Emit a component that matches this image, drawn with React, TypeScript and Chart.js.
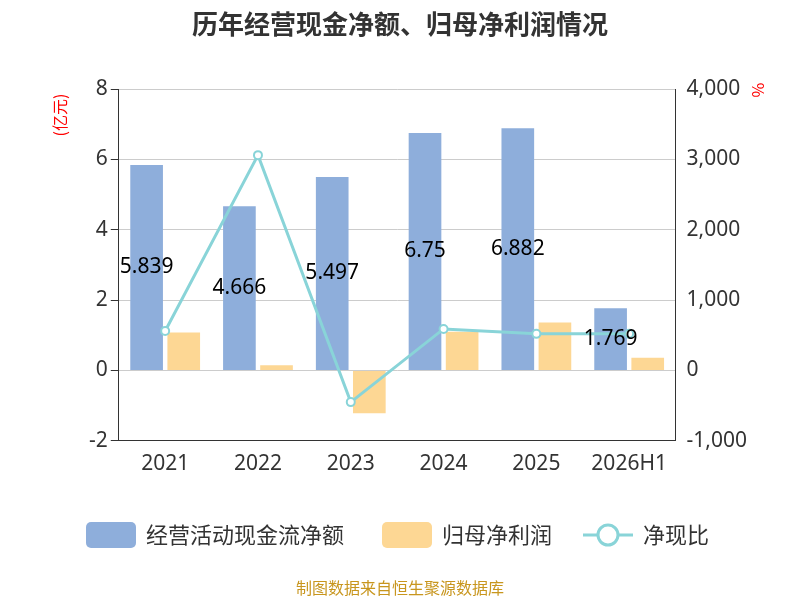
import React, { useEffect, useRef } from "react";
import { Chart, registerables } from "chart.js";
Chart.register(...registerables);

const categories = ["2021", "2022", "2023", "2024", "2025", "2026H1"];
const cashFlow = [5.839, 4.666, 5.497, 6.75, 6.882, 1.769];
const netProfit = [1.08, 0.15, -1.22, 1.1, 1.36, 0.36];
const ratio = [560, 3060, -450, 590, 520, 520];
const leftTicks = [-2, 0, 2, 4, 6, 8];

const BLUE = "#8eaedb";
const ORANGE = "#fdd794";
const TEAL = "#89d4d8";

const extras = {
  id: "extras",
  afterDatasetsDraw(chart: any) {
    const ctx = chart.ctx;
    const meta = chart.getDatasetMeta(0);
    ctx.save();
    ctx.fillStyle = "#000";
    ctx.font = "21px 'Noto Sans', sans-serif";
    ctx.textAlign = "center";
    ctx.textBaseline = "middle";
    meta.data.forEach((b: any, i: number) => {
      const y = (b.y + b.base) / 2;
      ctx.fillText(String(cashFlow[i]), b.x, y);
    });
    ctx.restore();
  },
  afterDraw(chart: any) {
    const ctx = chart.ctx;
    ctx.save();
    ctx.fillStyle = "#333";
    ctx.font = "bold 26px 'Noto Sans CJK SC', sans-serif";
    ctx.textAlign = "center";
    ctx.textBaseline = "middle";
    ctx.fillText("历年经营现金净额、归母净利润情况", 400, 24);
    ctx.fillStyle = "red";
    ctx.font = "16px 'Noto Sans CJK SC', sans-serif";
    ctx.save();
    ctx.translate(60, 115);
    ctx.rotate(-Math.PI / 2);
    ctx.fillText("(亿元)", 0, 0);
    ctx.restore();
    ctx.save();
    ctx.translate(758, 90);
    ctx.rotate(Math.PI / 2);
    ctx.fillText("%", 0, 0);
    ctx.restore();
    // legend
    ctx.textAlign = "left";
    ctx.fillStyle = "#333";
    ctx.font = "22px 'Noto Sans CJK SC', sans-serif";
    const ly = 535;
    const rr = (x: number, w: number, c: string) => {
      ctx.fillStyle = c;
      ctx.beginPath();
      (ctx as any).roundRect(x, ly - 13, w, 26, 5);
      ctx.fill();
    };
    rr(86, 50, BLUE);
    ctx.fillStyle = "#333";
    ctx.fillText("经营活动现金流净额", 146, ly);
    rr(382, 50, ORANGE);
    ctx.fillStyle = "#333";
    ctx.fillText("归母净利润", 442, ly);
    ctx.strokeStyle = TEAL;
    ctx.lineWidth = 3;
    ctx.beginPath();
    ctx.moveTo(583, ly);
    ctx.lineTo(633, ly);
    ctx.stroke();
    ctx.beginPath();
    ctx.fillStyle = "#fff";
    ctx.arc(608, ly, 10, 0, Math.PI * 2);
    ctx.fill();
    ctx.stroke();
    ctx.fillStyle = "#333";
    ctx.fillText("净现比", 643, ly);
    ctx.textAlign = "center";
    ctx.fillStyle = "#c8961e";
    ctx.font = "16px 'Noto Sans CJK SC', sans-serif";
    ctx.fillText("制图数据来自恒生聚源数据库", 400, 588);
    ctx.restore();
  },
};

export default function App() {
  const ref = useRef<HTMLCanvasElement>(null);
  useEffect(() => {
    document.body.style.margin = "0";
    const font = { size: 21, family: "'Noto Sans', sans-serif" };
    const chart = new Chart(ref.current!, {
      type: "bar",
      data: {
        labels: categories,
        datasets: [
          { type: "bar", data: cashFlow, backgroundColor: BLUE, yAxisID: "y", order: 2, barPercentage: 0.88, categoryPercentage: 0.8 },
          { type: "bar", data: netProfit, backgroundColor: ORANGE, yAxisID: "y", order: 2, barPercentage: 0.88, categoryPercentage: 0.8 },
          { type: "line", data: ratio, borderColor: TEAL, borderWidth: 3, pointRadius: 4, pointBackgroundColor: "#fff", pointBorderColor: TEAL, pointBorderWidth: 2, yAxisID: "y1", order: 1 } as any,
        ],
      },
      options: {
        animation: false,
        responsive: false,
        layout: { padding: { top: 89, bottom: 120, left: 86, right: 50 } },
        plugins: { legend: { display: false }, tooltip: { enabled: false } },
        scales: {
          x: {
            grid: { display: false, drawTicks: true },
            border: { color: "#333" },
            ticks: { color: "#333", font },
          },
          y: {
            min: -2, max: 8,
            afterBuildTicks: (s: any) => { s.ticks = leftTicks.map((v) => ({ value: v })); },
            grid: { color: "#ccc", tickLength: 8, tickColor: "#333" },
            border: { color: "#333" },
            ticks: { color: "#333", font },
          },
          y1: {
            position: "right", min: -1000, max: 4000,
            ticks: { stepSize: 1000, color: "#333", font },
            grid: { display: false, tickLength: 8, tickColor: "#333" } as any,
            border: { color: "#333" },
          },
        },
      },
      plugins: [extras],
    });
    return () => chart.destroy();
  }, []);
  return <canvas ref={ref} width={800} height={600} style={{ display: "block" }} />;
}
